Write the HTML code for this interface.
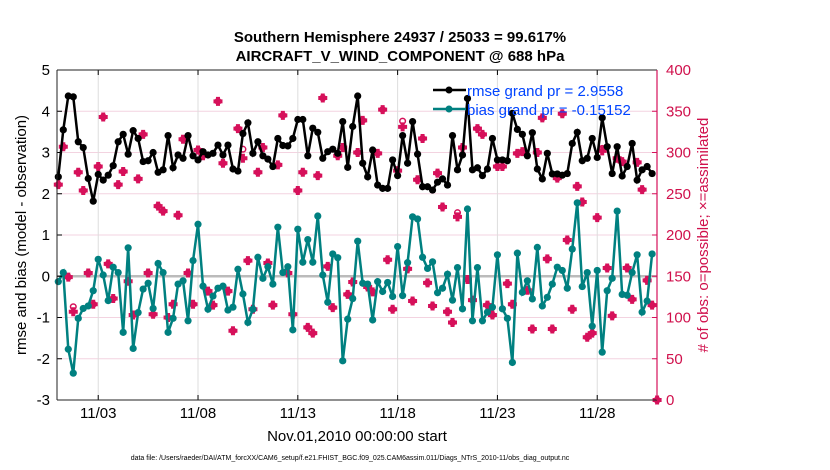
<!DOCTYPE html>
<html><head><meta charset="utf-8"><style>
body{margin:0;background:#fff;}
svg{display:block;font-family:"Liberation Sans",sans-serif;}
</style></head><body>
<svg id="chart" width="830" height="470" viewBox="0 0 830 470" xmlns="http://www.w3.org/2000/svg">
<g id="grid"></g>
<g id="marks"></g>
<g id="axes"></g>
<text x="400" y="42" text-anchor="middle" font-size="15" font-weight="bold">Southern Hemisphere 24937 / 25033 = 99.617%</text>
<text x="400" y="61" text-anchor="middle" font-size="15" font-weight="bold">AIRCRAFT_V_WIND_COMPONENT @ 688 hPa</text>
<text transform="translate(26,235) rotate(-90)" text-anchor="middle" font-size="15">rmse and bias (model - observation)</text>
<text transform="translate(708,235) rotate(-90)" text-anchor="middle" font-size="15" fill="#d0104c"># of obs: o=possible; ×=assimilated</text>
<text x="357" y="441" text-anchor="middle" font-size="15">Nov.01,2010 00:00:00 start</text>
<text x="350" y="460" text-anchor="middle" font-size="7">data file: /Users/raeder/DAI/ATM_forcXX/CAM6_setup/f.e21.FHIST_BGC.f09_025.CAM6assim.011/Diags_NTrS_2010-11/obs_diag_output.nc</text>
<g>
<line x1="433" y1="90" x2="466" y2="90" stroke="#000" stroke-width="2.5"/><circle cx="449" cy="90" r="3.5" fill="#000"/>
<text x="467" y="96" font-size="15" fill="#0044ff">rmse grand pr = 2.9558</text>
<line x1="433" y1="109" x2="466" y2="109" stroke="#008080" stroke-width="2.5"/><circle cx="449" cy="109" r="3.5" fill="#008080"/>
<text x="467" y="115" font-size="15" fill="#0044ff">bias grand pr = -0.15152</text>
</g>
</svg>
<script>
const rmse=[2.41,3.55,4.37,4.35,3.26,3.12,2.37,1.82,2.47,2.33,2.45,2.68,3.26,3.44,2.96,3.53,3.34,2.78,2.80,3.00,2.52,2.58,3.41,2.63,2.94,2.86,3.41,2.92,2.82,3.02,2.94,
2.98,3.18,2.94,3.18,2.60,2.55,3.46,3.72,2.98,3.26,2.92,2.84,2.66,3.34,3.17,3.16,3.34,3.80,3.80,2.92,3.59,3.49,2.86,3.02,3.08,2.98,3.75,2.64,3.63,4.37,
2.74,2.41,3.06,2.21,2.13,2.13,2.82,2.44,3.41,2.74,3.75,2.96,2.17,2.17,2.09,2.28,2.36,2.21,3.41,2.58,2.94,4.31,2.58,2.63,2.44,2.60,3.34,2.82,2.82,2.80,
3.95,3.56,3.44,2.92,3.48,2.60,2.36,2.98,2.48,2.48,2.45,2.49,3.22,3.49,2.80,2.86,3.34,2.88,3.84,3.14,2.49,3.14,2.43,2.66,3.22,2.33,2.58,2.66,2.49];
const bias=[-0.13,0.09,-1.77,-2.35,-1.02,-0.78,-0.72,-0.35,0.41,0.03,-0.59,0.22,0.09,-1.36,0.69,-1.75,-0.88,-0.31,-0.17,-0.78,0.31,0.09,-1.36,-1.02,-0.19,-0.11,-1.08,0.38,1.26,-0.24,-0.80,
-0.48,-0.29,-0.24,-0.82,-0.75,0.17,-0.43,-1.12,-0.80,0.46,-0.05,0.23,-0.19,1.19,0.09,0.23,-1.30,1.14,0.34,0.89,0.34,1.46,0.03,-0.63,0.54,0.45,-2.05,-1.04,-0.54,0.85,
-0.17,-0.19,-1.06,-0.13,-0.37,-0.15,-0.49,0.72,-0.47,0.33,1.44,1.39,0.46,0.19,0.35,-0.40,-0.29,0.05,-0.58,0.21,-0.79,1.63,-1.08,0.21,-1.08,-0.87,-0.75,0.52,-0.79,-1.02,
-2.09,0.56,-0.39,-0.11,-0.55,0.70,-0.72,-0.51,-0.19,0.22,0.14,-0.29,0.66,1.78,-0.25,0.09,-1.21,0.14,-1.84,-0.35,-0.05,1.58,-0.44,-0.46,0.09,0.52,-0.87,-0.60,0.54];
const obsUsed=[261,307,149,107,276,254,154,116,283,343,165,123,261,277,144,103,268,322,154,104,235,229,100,116,224,316,154,116,303,296,132,
115,362,287,132,84,329,293,169,110,276,306,166,115,285,345,154,104,254,276,88,81,272,366,162,112,296,306,128,143,300,
339,137,131,299,352,170,110,278,331,159,120,267,317,142,114,275,234,107,94,222,306,146,121,329,322,115,103,283,283,141,
116,299,301,133,86,300,342,171,86,269,347,194,110,259,240,76,81,221,302,160,102,293,289,160,122,288,255,145,115,0];
const obsPossible=obsUsed.map((v,i)=>({3:113,37:304,69:338,80:227,109:305}[i]||v));
const dateLabels=["11/03","11/08","11/13","11/18","11/23","11/28"];
const leftTicks=[5,4,3,2,1,0,-1,-2,-3];
const rightTicks=[400,350,300,250,200,150,100,50,0];

const NS="http://www.w3.org/2000/svg";
const X0=57,X1=657,Y0=70,Y1=400;
const x=i=>58.3+4.99*i;
const yL=v=>Y1-(v+3)/8*(Y1-Y0);
const yR=v=>Y1-v/400*(Y1-Y0);
function mk(tag,parent,attrs){const e=document.createElementNS(NS,tag);for(const k in attrs)e.setAttribute(k,attrs[k]);parent.appendChild(e);return e;}
const grid=document.getElementById('grid'),marks=document.getElementById('marks'),axes=document.getElementById('axes');
const RED="#d6105a";
leftTicks.forEach(v=>{
  if(v!==5&&v!==-3){const g=mk('line',grid,{x1:X0,x2:X1,y1:yL(v),y2:yL(v),stroke:'#f3d3e0','stroke-width':1});
  
  }
  const t=mk('text',axes,{x:X0-7,y:yL(v)+5,'text-anchor':'end','font-size':15});t.textContent=v;
  
  
  mk('line',axes,{x1:X0,x2:X0+5,y1:yL(v),y2:yL(v),stroke:'#000'});
});
rightTicks.forEach(v=>{
  const t=mk('text',axes,{x:X1+9,y:yR(v)+5,'font-size':15,fill:'#d0104c'});t.textContent=v;
  
  
  mk('line',axes,{x1:X1-5,x2:X1,y1:yR(v),y2:yR(v),stroke:RED});
});
dateLabels.forEach((d,k)=>{
  const xi=x(8+20*k);
  const g=mk('line',grid,{x1:xi,x2:xi,y1:Y0,y2:Y1,stroke:'#ddd','stroke-width':1});
  
  
  mk('line',axes,{x1:xi,x2:xi,y1:Y1,y2:Y1-5,stroke:'#000'});
  mk('line',axes,{x1:xi,x2:xi,y1:Y0,y2:Y0+5,stroke:'#000'});
  const t=mk('text',axes,{x:xi,y:418,'text-anchor':'middle','font-size':15});t.textContent=d;
  
  
});
const z=mk('line',grid,{x1:X0,x2:X1,y1:yL(0),y2:yL(0),stroke:'#bbb','stroke-width':2.5});


// obs markers
obsPossible.forEach((v,i)=>{
  const c=mk('circle',marks,{cx:x(i),cy:yR(v),r:2.8,fill:'none',stroke:RED,'stroke-width':1.5});
  
  
});
obsUsed.forEach((v,i)=>{
  const px=x(i),py=yR(v);
  const p=mk('path',marks,{d:`M${px-4.5},${py}L${px+4.5},${py}M${px},${py-4.5}L${px},${py+4.5}`,stroke:RED,'stroke-width':4});
  
  
});
function series(arr,color,name){
  const l=mk('polyline',marks,{points:arr.map((v,i)=>x(i)+','+yL(v)).join(' '),fill:'none',stroke:color,'stroke-width':2.5});
  
  
  arr.forEach((v,i)=>{const c=mk('circle',marks,{cx:x(i),cy:yL(v),r:3.6,fill:color});
    
    });
}
series(bias,'#008080','bias');
series(rmse,'#000','rmse');
mk('line',axes,{x1:X0,x2:X1,y1:Y0,y2:Y0,stroke:'#222','stroke-width':1});
mk('line',axes,{x1:X0,x2:X1,y1:Y1,y2:Y1,stroke:'#222','stroke-width':1});
mk('line',axes,{x1:X0,x2:X0,y1:Y0,y2:Y1,stroke:'#222','stroke-width':1});
mk('line',axes,{x1:X1,x2:X1,y1:Y0,y2:Y1,stroke:RED,'stroke-width':1.2});
</script>
</body></html>
